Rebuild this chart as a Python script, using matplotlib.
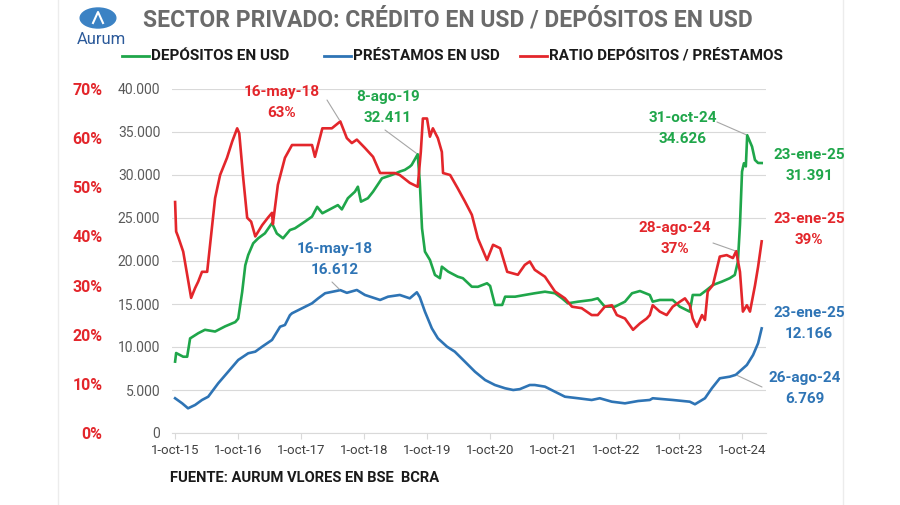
import pandas as pd
import numpy as np
from matplotlib import pyplot as plt
from matplotlib.lines import Line2D
from matplotlib.patches import Circle
from matplotlib.ticker import FuncFormatter

plt.rcParams['font.family'] = ['Roboto', 'DejaVu Sans']

# deposits in USD (millions)
dep_dates = ['2015-10-01', '2015-10-07', '2015-11-17', '2015-12-10', '2015-12-27', '2016-02-12',
             '2016-03-22', '2016-05-20', '2016-07-17', '2016-09-14', '2016-10-01', '2016-10-24',
             '2016-11-11', '2016-11-28', '2016-12-27', '2017-01-25', '2017-03-05', '2017-04-15',
             '2017-05-13', '2017-06-18', '2017-07-28', '2017-08-26', '2017-10-23', '2017-12-03',
             '2018-01-02', '2018-02-01', '2018-03-28', '2018-05-02', '2018-05-25', '2018-06-29',
             '2018-08-09', '2018-08-26', '2018-09-13', '2018-10-23', '2018-11-22', '2019-01-13',
             '2019-03-10', '2019-04-26', '2019-05-25', '2019-06-23', '2019-07-04', '2019-08-08',
             '2019-08-20', '2019-09-02', '2019-09-19', '2019-10-18', '2019-11-16', '2019-12-15',
             '2019-12-26', '2020-02-01', '2020-03-27', '2020-04-26', '2020-06-17', '2020-07-22',
             '2020-09-13', '2020-10-01', '2020-10-29', '2020-12-10', '2020-12-27', '2021-02-23',
             '2021-04-20', '2021-06-17', '2021-08-15', '2021-10-12', '2021-11-22', '2021-12-26',
             '2022-02-23', '2022-05-13', '2022-06-17', '2022-07-28', '2022-09-25', '2022-11-22',
             '2023-01-02', '2023-02-17', '2023-04-15', '2023-05-02', '2023-06-12', '2023-08-26',
             '2023-10-06', '2023-12-03', '2023-12-20', '2024-02-01', '2024-03-10', '2024-04-15',
             '2024-06-06', '2024-07-22', '2024-08-20', '2024-09-07', '2024-09-19', '2024-10-01',
             '2024-10-12', '2024-10-23', '2024-10-31', '2024-11-28', '2024-12-15', '2025-01-02',
             '2025-01-23']
dep_vals = [8300, 9300, 8870, 8870, 11000, 11600,
            12000, 11800, 12400, 12900, 13300, 16400,
            19500, 20700, 22060, 22640, 23220, 24400,
            23200, 22640, 23600, 23800, 24580, 25160,
            26300, 25550, 26130, 26500, 26000, 27300,
            28060, 28640, 26900, 27300, 28060, 29620,
            30000, 30400, 30590, 30970, 31170, 32411,
            29230, 23800, 21090, 20120, 18380, 18000,
            19340, 18760, 18180, 18000, 17010, 17000,
            17410, 17100, 14890, 14890, 15850, 15850,
            16050, 16250, 16430, 16250, 15660, 15080,
            15270, 15470, 15660, 14690, 14690, 15270,
            16250, 16510, 16050, 15270, 15470, 15470,
            14690, 14110, 16050, 16050, 16630, 17210,
            17600, 18000, 18380, 19920, 24190, 30400,
            31370, 31000, 34626, 33300, 31750, 31400,
            31391]

# loans in USD (millions)
loan_dates = ['2015-10-01', '2015-11-11', '2015-12-15', '2016-01-25', '2016-03-05', '2016-04-10',
              '2016-06-07', '2016-08-04', '2016-10-01', '2016-11-28', '2017-01-08', '2017-02-17',
              '2017-04-15', '2017-06-01', '2017-06-29', '2017-07-28', '2017-08-09', '2017-10-06',
              '2017-12-03', '2018-01-08', '2018-02-17', '2018-05-16', '2018-06-23', '2018-08-20',
              '2018-10-06', '2019-01-02', '2019-02-17', '2019-04-26', '2019-06-23', '2019-08-03',
              '2019-08-20', '2019-09-19', '2019-10-29', '2019-12-03', '2020-01-25', '2020-03-10',
              '2020-05-08', '2020-07-05', '2020-09-02', '2020-10-29', '2020-12-27', '2021-02-12',
              '2021-03-22', '2021-05-19', '2021-06-17', '2021-08-15', '2021-10-12', '2021-12-09',
              '2022-02-23', '2022-05-13', '2022-06-29', '2022-09-07', '2022-11-22', '2023-02-06',
              '2023-04-15', '2023-05-02', '2023-08-26', '2023-12-03', '2024-01-02', '2024-02-29',
              '2024-04-09', '2024-05-25', '2024-07-22', '2024-08-26', '2024-10-29', '2024-12-04',
              '2025-01-02', '2025-01-23']
loan_vals = [4040, 3450, 2870, 3260, 3840, 4220,
             5780, 7130, 8490, 9270, 9460, 10040,
             10820, 12360, 12560, 13700, 13920, 14500,
             15080, 15660, 16250, 16612, 16300, 16630,
             16050, 15470, 15850, 16050, 15660, 16360,
             15800, 14110, 12170, 11010, 10040, 9460,
             8290, 7130, 6160, 5580, 5200, 5000,
             5100, 5580, 5580, 5390, 4800, 4220,
             4040, 3840, 4040, 3640, 3450, 3720,
             3840, 4040, 3840, 3640, 3340, 4040,
             5200, 6360, 6550, 6769, 7910, 9070,
             10430, 12166]

# ratio loans / deposits (%)
ratio_dates = ['2015-10-01', '2015-10-07', '2015-10-18', '2015-11-17', '2016-01-02', '2016-01-25',
               '2016-02-12', '2016-03-05', '2016-04-04', '2016-05-20', '2016-06-18', '2016-07-28',
               '2016-08-27', '2016-09-25', '2016-10-07', '2016-10-30', '2016-11-22', '2016-12-15',
               '2017-01-08', '2017-02-17', '2017-03-22', '2017-04-15', '2017-04-20', '2017-05-19',
               '2017-06-29', '2017-08-09', '2017-10-06', '2017-12-03', '2017-12-20', '2018-02-01',
               '2018-03-28', '2018-05-16', '2018-06-23', '2018-07-22', '2018-08-20', '2018-10-06',
               '2018-11-22', '2019-01-02', '2019-03-28', '2019-04-26', '2019-06-23', '2019-08-08',
               '2019-08-26', '2019-09-07', '2019-10-01', '2019-10-18', '2019-11-04', '2019-12-03',
               '2019-12-26', '2020-01-02', '2020-02-12', '2020-03-27', '2020-05-08', '2020-06-17',
               '2020-07-22', '2020-09-13', '2020-10-18', '2020-11-28', '2021-01-08', '2021-03-11',
               '2021-04-20', '2021-05-19', '2021-06-17', '2021-08-15', '2021-10-12', '2021-12-09',
               '2022-01-19', '2022-03-16', '2022-05-13', '2022-06-17', '2022-07-28', '2022-09-07',
               '2022-10-06', '2022-11-22', '2023-01-08', '2023-02-17', '2023-03-28', '2023-04-15',
               '2023-05-02', '2023-06-12', '2023-07-22', '2023-08-26', '2023-10-06', '2023-11-05',
               '2023-12-03', '2023-12-20', '2024-01-13', '2024-02-12', '2024-02-29', '2024-03-16',
               '2024-04-15', '2024-05-25', '2024-07-04', '2024-08-09', '2024-08-28', '2024-09-19',
               '2024-10-06', '2024-10-29', '2024-11-16', '2024-12-15', '2025-01-02', '2025-01-23']
ratio_vals = [47, 41, 40, 36.9, 27.5, 29.5,
              30.8, 32.8, 32.8, 47.8, 52.5, 56,
              59.3, 62, 61, 51.9, 43.8, 43,
              40, 42.3, 43.8, 44.8, 42.5, 50.5,
              56, 58.6, 58.6, 58.6, 56.2, 62,
              62, 63.4, 60, 59, 59.7, 58,
              56.2, 52.9, 52.9, 52.5, 50.9, 50.1,
              57.2, 64, 64, 60.3, 62, 60,
              57.2, 52.9, 52.5, 49.8, 47.1, 44.4,
              39.6, 35.2, 38.3, 37.6, 32.8, 32.2,
              34.2, 34.9, 33.2, 31.8, 28.8, 27.4,
              25.7, 25.4, 24, 24, 25.7, 26,
              24, 23.3, 21, 22.3, 23.3, 24,
              26, 24.7, 24, 25.7, 26.7, 27.4,
              26, 23.3, 21.6, 24, 23, 28.8,
              30.1, 35.9, 36.2, 35.6, 37, 32.8,
              24.7, 26, 24.7, 30, 33.8, 39]

tick_years = [15, 16, 17, 18, 19, 20, 21, 22, 23, 24]

GREEN = '#1fa64a'
BLUE = '#2e74b5'
RED = '#e3262b'
W, H = 900, 505


def px(x, y):
    # image pixel -> figure fraction
    return x / W, 1 - y / H


def thousands(v, pos=None):
    return f'{v:,.0f}'.replace(',', '.')


fig = plt.figure(figsize=(9, 5.05), dpi=100)
fig.patch.set_facecolor('white')
ax = fig.add_axes([172 / W, 72 / H, 594 / W, 344 / H])

ax.plot(pd.to_datetime(dep_dates), dep_vals, color=GREEN, lw=1.9)
ax.plot(pd.to_datetime(loan_dates), loan_vals, color=BLUE, lw=1.9)
ax.set_ylim(0, 40000)
ax.set_yticks(np.arange(0, 40001, 5000))
ax.yaxis.set_major_formatter(FuncFormatter(lambda v, p: '0' if v == 0 else thousands(v)))
ax.set_xlim(pd.Timestamp('2015-09-13'), pd.Timestamp('2025-02-17'))
ax.set_xticks(pd.to_datetime([f'20{y}-10-01' for y in tick_years]))
ax.set_xticklabels([f'1-oct-{y}' for y in tick_years])
ax.grid(axis='y', color='#d9d9d9', lw=0.8)
ax.set_axisbelow(True)
for s in ['top', 'right', 'left']:
    ax.spines[s].set_visible(False)
ax.spines['bottom'].set_color('#d9d9d9')
ax.tick_params(axis='y', length=0, pad=8.5, labelsize=10, labelcolor='#595959')
ax.tick_params(axis='x', length=4, color='#d9d9d9', pad=4, labelsize=9.5, labelcolor='#404040')

ax2 = ax.twinx()
ax2.plot(pd.to_datetime(ratio_dates), ratio_vals, color=RED, lw=1.9)
ax2.set_ylim(0, 70)
ax2.set_yticks(np.arange(0, 71, 10))
ax2.set_yticklabels([f'{v}%' for v in range(0, 71, 10)])
ax2.yaxis.tick_left()
ax2.tick_params(axis='y', length=0, pad=50, labelsize=11.5, labelcolor=RED)
for t in ax2.get_yticklabels():
    t.set_fontweight('bold')
for s in ax2.spines.values():
    s.set_visible(False)

# faint frame of the original screenshot
for xf in [58, 843]:
    fig.add_artist(Line2D([xf / W] * 2, [0, 1], transform=fig.transFigure, color='#ececec', lw=1))

# title and logo
fig.text(*px(448, 20), 'SECTOR PRIVADO: CRÉDITO EN USD / DEPÓSITOS EN USD', ha='center', va='center',
         fontsize=16.5, fontweight='bold', color='#6b6b6b')
fig.add_artist(Circle(px(98, 18), 10 / H, transform=fig.transFigure, color='#3b82c4'))
fig.add_artist(Line2D([px(93, 23)[0], px(98, 12)[0], px(103, 23)[0]],
                      [px(93, 23)[1], px(98, 12)[1], px(103, 23)[1]],
                      transform=fig.transFigure, color='white', lw=1.5))
fig.text(*px(101, 39), 'Aurum', ha='center', va='center', fontsize=12, color='#2c5a9a')

# legend
legend = [(GREEN, 'DEPÓSITOS EN USD', 122), (BLUE, 'PRÉSTAMOS EN USD', 324),
          (RED, 'RATIO DEPÓSITOS / PRÉSTAMOS', 520)]
for col, lab, x0 in legend:
    fig.add_artist(Line2D([px(x0, 0)[0], px(x0 + 27, 0)[0]], [px(0, 56)[1]] * 2,
                          transform=fig.transFigure, color=col, lw=2))
    fig.text(*px(x0 + 29, 56), lab, ha='left', va='center', fontsize=11, fontweight='bold', color='#1a1a1a')

fig.text(*px(170, 478), 'FUENTE: AURUM VLORES EN BSE  BCRA', ha='left', va='center',
         fontsize=10.6, fontweight='bold', color='#1a1a1a')


# annotations
def label(x, y, lines, color):
    for i, s in enumerate(lines):
        fig.text(*px(x, y + 21 * i), s, ha='center', va='center', fontsize=11,
                 fontweight='bold', color=color)


def leader(axis, date, val, x, y):
    axis.annotate('', xy=(pd.Timestamp(date), val), xytext=px(x, y), textcoords='figure fraction',
                  arrowprops=dict(arrowstyle='-', color='#a6a6a6', lw=0.8, shrinkA=0, shrinkB=1))


label(282, 92, ['16-may-18', '63%'], RED)
leader(ax2, '2018-05-16', 63.4, 327, 100)
label(388, 97, ['8-ago-19', '32.411'], GREEN)
leader(ax, '2019-08-08', 32411, 385, 130)
label(335, 249, ['16-may-18', '16.612'], BLUE)
leader(ax, '2018-05-16', 16612, 332, 282)
label(683, 118, ['31-oct-24', '34.626'], GREEN)
leader(ax, '2024-10-31', 34626, 717, 122)
label(809, 155, ['23-ene-25', '31.391'], GREEN)
label(675, 228, ['28-ago-24', '37%'], RED)
leader(ax2, '2024-08-28', 37, 713, 243)
label(809, 219, ['23-ene-25', '39%'], RED)
label(809, 313, ['23-ene-25', '12.166'], BLUE)
label(805, 378, ['26-ago-24', '6.769'], BLUE)
leader(ax, '2024-08-26', 6769, 762, 387)

plt.savefig('out.png', dpi=100)
